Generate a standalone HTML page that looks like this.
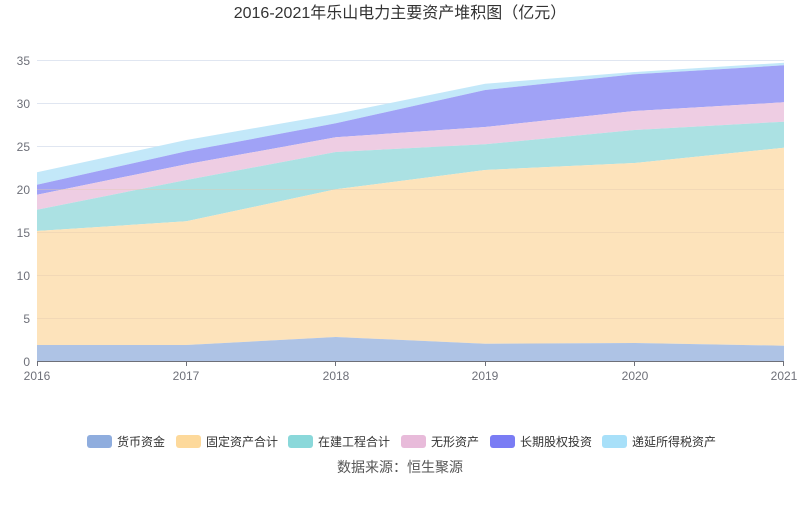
<!DOCTYPE html>
<html><head><meta charset="utf-8"><style>
body{margin:0;background:#fff;}
svg text{font-family:"Liberation Sans","Noto Sans CJK SC",sans-serif;}
</style></head><body>
<svg width="800" height="501" xmlns="http://www.w3.org/2000/svg">
<rect width="800" height="501" fill="#fff"/>
<text x="400" y="18" text-anchor="middle" font-size="16" fill="#333">2016-2021年乐山电力主要资产堆积图（亿元）</text>
<g stroke="#e0e6f1" stroke-width="1">
<line x1="37" x2="784" y1="60.5" y2="60.5"/><line x1="37" x2="784" y1="103.5" y2="103.5"/>
<line x1="37" x2="784" y1="146.5" y2="146.5"/><line x1="37" x2="784" y1="189.5" y2="189.5"/>
<line x1="37" x2="784" y1="232.5" y2="232.5"/><line x1="37" x2="784" y1="275.5" y2="275.5"/>
<line x1="37" x2="784" y1="318.5" y2="318.5"/>
</g>
<g>
<polygon fill="#c3e8f9" points="37,172.3 186.4,140 335.8,114 485.2,83.7 634.6,72 784,62.7 784,65.3 634.6,74.3 485.2,90 335.8,123.3 186.4,151.3 37,184.7"/>
<polygon fill="#a0a2f6" points="37,184.7 186.4,151.3 335.8,123.3 485.2,90 634.6,74.3 784,65.3 784,102.3 634.6,111 485.2,127 335.8,137.3 186.4,164.3 37,194.7"/>
<polygon fill="#eecde3" points="37,194.7 186.4,164.3 335.8,137.3 485.2,127 634.6,111 784,102.3 784,121.7 634.6,130 485.2,144.3 335.8,152 186.4,180 37,209.7"/>
<polygon fill="#abe1e3" points="37,209.7 186.4,180 335.8,152 485.2,144.3 634.6,130 784,121.7 784,147.7 634.6,163 485.2,170 335.8,189.3 186.4,221.3 37,231"/>
<polygon fill="#fde3bb" points="37,231 186.4,221.3 335.8,189.3 485.2,170 634.6,163 784,147.7 784,345.7 634.6,343 485.2,343.7 335.8,337 186.4,345 37,345"/>
<polygon fill="#aec3e5" points="37,345 186.4,345 335.8,337 485.2,343.7 634.6,343 784,345.7 784,361 37,361"/>
</g>
<g stroke="#e0c8b0" stroke-opacity="0.4"><line x1="37" x2="784" y1="189.5" y2="189.5"/><line x1="37" x2="784" y1="232.5" y2="232.5"/><line x1="37" x2="784" y1="275.5" y2="275.5"/><line x1="37" x2="784" y1="318.5" y2="318.5"/></g>
<line x1="37" x2="784" y1="361.5" y2="361.5" stroke="#6e7079"/>
<g stroke="#6e7079"><line x1="37.5" x2="37.5" y1="361" y2="366"/><line x1="186.5" x2="186.5" y1="361" y2="366"/><line x1="335.5" x2="335.5" y1="361" y2="366"/><line x1="485.5" x2="485.5" y1="361" y2="366"/><line x1="634.5" x2="634.5" y1="361" y2="366"/><line x1="783.5" x2="783.5" y1="361" y2="366"/></g>
<g font-size="12" fill="#6e7079" text-anchor="end">
<text x="30" y="65">35</text><text x="30" y="108">30</text><text x="30" y="151">25</text><text x="30" y="194">20</text><text x="30" y="237">15</text><text x="30" y="280">10</text><text x="30" y="323">5</text><text x="30" y="366">0</text>
</g>
<g font-size="12" fill="#6e7079" text-anchor="middle">
<text x="37" y="380">2016</text><text x="186" y="380">2017</text><text x="336" y="380">2018</text><text x="485" y="380">2019</text><text x="635" y="380">2020</text><text x="784" y="380">2021</text>
</g>
<g font-size="12" fill="#333">
<rect x="87" y="435" width="25" height="13" rx="3" fill="#8fadde"/><text x="117" y="446">货币资金</text>
<rect x="176" y="435" width="25" height="13" rx="3" fill="#fdd99b"/><text x="206" y="446">固定资产合计</text>
<rect x="288" y="435" width="25" height="13" rx="3" fill="#8ad8da"/><text x="318" y="446">在建工程合计</text>
<rect x="401" y="435" width="25" height="13" rx="3" fill="#e8bbda"/><text x="431" y="446">无形资产</text>
<rect x="490" y="435" width="25" height="13" rx="3" fill="#7a7cf4"/><text x="520" y="446">长期股权投资</text>
<rect x="602" y="435" width="25" height="13" rx="3" fill="#a8e0f9"/><text x="632" y="446">递延所得税资产</text>
</g>
<text x="400" y="472" text-anchor="middle" font-size="14" fill="#555">数据来源：恒生聚源</text>
</svg>
</body></html>
